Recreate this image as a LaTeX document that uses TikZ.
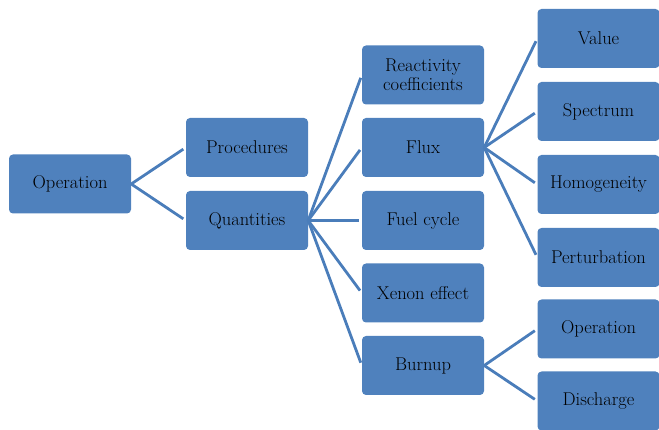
\documentclass[tikz,border=0pt]{standalone}
\definecolor{boxblue}{HTML}{4F81BD}
\definecolor{linkblue}{HTML}{4A7DBA}
\begin{document}
\begin{tikzpicture}[x=1pt,y=-1pt,
  box/.style={rectangle, rounded corners=4pt, fill=boxblue, draw=none,
    minimum width=122pt, minimum height=59pt, inner sep=2pt,
    text=black, align=center,
    font=\fontsize{18.5}{19.5}\selectfont},
  link/.style={draw=linkblue, line width=2.8pt, shorten >=3pt, shorten <=0pt}]
\useasboundingbox (0,0) rectangle (659,430);

% level 1
\node[box] (op) at (70,184) {Operation};

% level 2
\node[box] (proc) at (247,147.5) {Procedures};
\node[box] (quant) at (247,220.5) {Quantities};

% level 3
\node[box] (react) at (423,75) {Reactivity\\coefficients};
\node[box] (flux) at (423,147.5) {Flux};
\node[box] (fuel) at (423,220.5) {Fuel cycle};
\node[box] (xenon) at (423,293) {Xenon effect};
\node[box] (burn) at (423,365.5) {Burnup};

% level 4
\node[box] (value) at (598.5,38.5) {Value};
\node[box] (spec) at (598.5,111.5) {Spectrum};
\node[box] (homog) at (598.5,184.5) {Homogeneity};
\node[box] (pert) at (598.5,257.5) {Perturbation};
\node[box] (bop) at (598.5,329) {Operation};
\node[box] (dis) at (598.5,401) {Discharge};

% connectors
\foreach \c in {proc,quant} \draw[link] (op.east) -- (\c.west);
\foreach \c in {react,flux,fuel,xenon,burn} \draw[link] (quant.east) -- (\c.west);
\foreach \c in {value,spec,homog,pert} \draw[link] (flux.east) -- (\c.west);
\foreach \c in {bop,dis} \draw[link] (burn.east) -- (\c.west);
\end{tikzpicture}
\end{document}
